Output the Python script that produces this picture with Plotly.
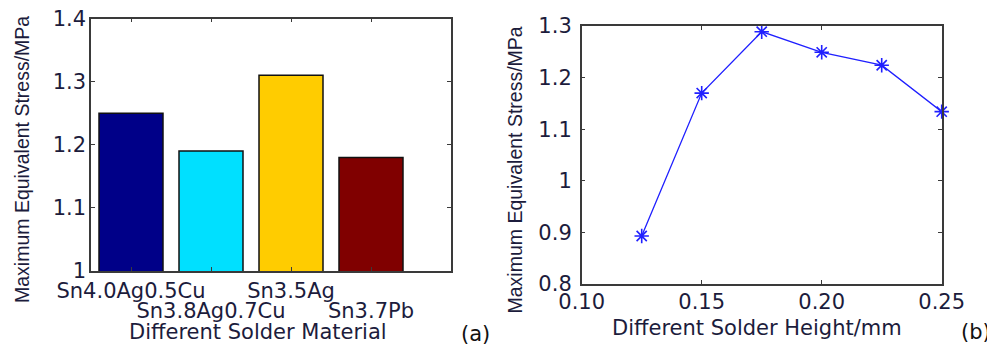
import plotly.graph_objects as go

# ---- data ----
materials = ["Sn4.0Ag0.5Cu", "Sn3.8Ag0.7Cu", "Sn3.5Ag", "Sn3.7Pb"]
material_pos = [1, 2, 3, 4]
material_stress = [1.25, 1.19, 1.31, 1.18]
bar_colors = ["#000088", "#00E0FF", "#FFCC00", "#800000"]

heights = [0.125, 0.15, 0.175, 0.20, 0.225, 0.25]
height_stress = [0.893, 1.170, 1.289, 1.249, 1.224, 1.134]

a_yticks = [1.0, 1.1, 1.2, 1.3, 1.4]
b_xticks = [0.10, 0.15, 0.20, 0.25]
b_yticks = [0.8, 0.9, 1.0, 1.1, 1.2, 1.3]

# page body has an 8px margin: figure is offset by (8, 8) in the window
OFF = 8
W, H = 995 - OFF, 350 - OFF
TXT = "#1c1c3c"
AX = "#3a3a3a"
HFONT = "DejaVu Sans"
VFONT = "Liberation Sans"
FS = 21

def px(x):
    return (x - OFF) / W

def py(y):
    return 1 - (y - OFF) / H

fig = go.Figure()

fig.add_trace(go.Bar(
    x=material_pos, y=material_stress, width=0.8,
    marker=dict(color=bar_colors, line=dict(color="#111111", width=1.5)),
    xaxis="x", yaxis="y", showlegend=False,
))

fig.add_trace(go.Scatter(
    x=heights, y=height_stress, mode="lines+markers",
    line=dict(color="#2020FF", width=1.3),
    marker=dict(symbol="asterisk-open", size=12,
                line=dict(color="#1010FF", width=1.6)),
    xaxis="x2", yaxis="y2", showlegend=False, cliponaxis=False,
))

common = dict(showgrid=False, zeroline=False, showline=True, linecolor=AX,
              linewidth=1.5, mirror="ticks", ticks="inside", ticklen=4,
              tickcolor=AX, tickwidth=1.2, automargin=False,
              ticklabeloverflow="allow",
              tickfont=dict(family=HFONT, size=FS, color=TXT))

dom_a_x = [px(91), px(451)]
dom_a_y = [py(271), py(18.5)]
dom_b_x = [px(581.7), px(941.7)]
dom_b_y = [py(284), py(26)]

row1_text = [materials[0], "", materials[2], ""]

fig.update_layout(
    width=W, height=H,
    margin=dict(l=0, r=0, t=0, b=0, autoexpand=False),
    paper_bgcolor="white", plot_bgcolor="white",
    xaxis=dict(domain=dom_a_x, anchor="y", range=[0.5, 5.0],
               tickmode="array", tickvals=material_pos, ticktext=row1_text,
               ticklabelstandoff=0, **common),
    xaxis3=dict(domain=dom_a_x, anchor="y", overlaying="x", side="bottom",
                range=[0.5, 5.0], tickmode="array",
                tickvals=[material_pos[1], material_pos[3]],
                ticktext=[materials[1], materials[3]],
                showgrid=False, zeroline=False, showline=False, ticks="",
                ticklabelstandoff=25, automargin=False,
                ticklabeloverflow="allow",
                tickfont=dict(family=HFONT, size=FS, color=TXT)),
    yaxis=dict(domain=dom_a_y, anchor="x", range=[1.0, 1.40001],
               tickmode="array", tickvals=a_yticks, ticklabelstandoff=-1,
               **common),
    xaxis2=dict(domain=dom_b_x, anchor="y2", range=[0.10, 0.25],
                tickmode="array", tickvals=b_xticks, tickformat=".2f",
                ticklabelstandoff=-2, **common),
    yaxis2=dict(domain=dom_b_y, anchor="x2", range=[0.8, 1.30001],
                tickmode="array", tickvals=b_yticks, ticklabelstandoff=4,
                **common),
)

# placeholder trace so the second-row label axis is drawn
fig.add_trace(go.Scatter(x=[None], y=[None], xaxis="x3", yaxis="y",
                         showlegend=False, hoverinfo="skip"))

def note(text, x, y, family=HFONT, size=FS, color=TXT, angle=0):
    return dict(text=text, x=px(x), y=py(y), xref="paper", yref="paper",
                xanchor="center", yanchor="middle", showarrow=False,
                textangle=angle, font=dict(family=family, size=size, color=color))

ann = [
    note("Maximum Equivalent Stress/MPa", 22, 160, VFONT, 19.5, angle=-90),
    note("Maximum Equivalent Stress/MPa", 514, 170.5, VFONT, 19.5, angle=-90),
    note("Different Solder Material", 258, 332),
    note("Different Solder Height/mm", 757, 327.5),
    note("(a)", 475, 334, color="#111111"),
    note("(b)", 976, 332, color="#111111"),
]
fig.update_layout(annotations=ann)

fig.write_html("out.html")
